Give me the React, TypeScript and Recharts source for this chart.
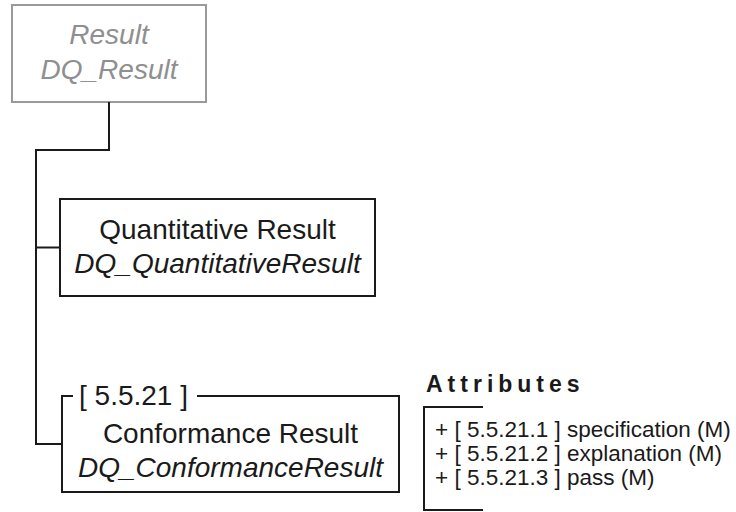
import { ReferenceArea, Scatter, ScatterChart, XAxis, YAxis } from "recharts";

// diagram units match the original figure's pixel grid
const FIG_W = 736;
const FIG_H = 512;

// class boxes (the first one is abstract: grey, italic)
const boxNames = ["Result", "Quantitative Result", "Conformance Result"];
const boxClasses = ["DQ_Result", "DQ_QuantitativeResult", "DQ_ConformanceResult"];
const boxLeft = [12, 60, 62];
const boxRight = [206, 375, 399];
const boxTop = [5, 199, 396];
const boxBottom = [102, 296, 492];
const nameBaseline = [44, 239, 443];
const classBaseline = [79, 273, 477];

// clause label sitting on the top edge of the conformance box
const clauseLabel = "[ 5.5.21 ]";
const clauseStart = 79;
const clauseBaseline = 405;
const clauseGapEnd = 197;

// inheritance tree
const trunkX = 36;
const elbowY = 150;

// attributes of the conformance result
const attrHeading = "Attributes";
const attrClauses = ["5.5.21.1", "5.5.21.2", "5.5.21.3"];
const attrNames = ["specification", "explanation", "pass"];
const attrObligation = ["M", "M", "M"];
const attrBaselines = [437, 461, 485];
const attrTextX = 435;
const headingX = 426;
const headingBaseline = 392;
const bracketX = 424;
const bracketArm = 483;
const bracketTop = 407;
const bracketBottom = 510;

const FONT = "'Liberation Sans', Arial, sans-serif";
const INK = "#1a1a1a";
const GREY = "#8f8f8f";

const midX = (i: number) => (boxLeft[i] + boxRight[i]) / 2;
const midY = (i: number) => (boxTop[i] + boxBottom[i]) / 2;

const nameMarks = boxNames.map((text, i) => ({ x: midX(i), y: nameBaseline[i], text, abstract: i === 0 }));
const classMarks = boxClasses.map((text, i) => ({ x: midX(i), y: classBaseline[i], text, abstract: i === 0 }));
const clauseMarks = [{ x: clauseStart, y: clauseBaseline, text: clauseLabel }];
const headingMarks = [{ x: headingX, y: headingBaseline, text: attrHeading }];
const attrMarks = attrNames.map((n, i) => ({
  x: attrTextX,
  y: attrBaselines[i],
  text: `+ [ ${attrClauses[i]} ] ${n} (${attrObligation[i]})`,
}));

// connector from the abstract Result down to the trunk, then to the last child
const treePath = [
  { x: midX(0), y: boxBottom[0] },
  { x: midX(0), y: elbowY },
  { x: trunkX, y: elbowY },
  { x: trunkX, y: midY(2) },
  { x: boxLeft[2], y: midY(2) },
];
const branchPath = [
  { x: trunkX, y: midY(1) },
  { x: boxLeft[1], y: midY(1) },
];
// conformance box drawn open at the top where the clause label sits
const conformancePath = [
  { x: clauseStart - 6, y: boxTop[2] },
  { x: boxLeft[2], y: boxTop[2] },
  { x: boxLeft[2], y: boxBottom[2] },
  { x: boxRight[2], y: boxBottom[2] },
  { x: boxRight[2], y: boxTop[2] },
  { x: clauseGapEnd, y: boxTop[2] },
];
const bracketPath = [
  { x: bracketArm, y: bracketTop },
  { x: bracketX, y: bracketTop },
  { x: bracketX, y: bracketBottom },
  { x: bracketArm, y: bracketBottom },
];

const noDot = () => <g />;

const textShape = (style: React.SVGProps<SVGTextElement>) => (props: any) => {
  const { cx, cy, payload } = props;
  const abstract = payload.abstract;
  return (
    <text
      x={cx}
      y={cy}
      fontFamily={FONT}
      fill={abstract ? GREY : INK}
      {...style}
      fontStyle={abstract ? "italic" : style.fontStyle}
    >
      {payload.text}
    </text>
  );
};

const lineStyle = { stroke: INK, strokeWidth: 2, fill: "none" };

export default function App() {
  return (
    <div style={{ position: "absolute", left: 0, top: 0, background: "#fff" }}>
      <ScatterChart width={FIG_W} height={FIG_H} margin={{ top: 0, right: 0, bottom: 0, left: 0 }}>
        <XAxis type="number" dataKey="x" domain={[0, FIG_W]} allowDataOverflow hide />
        <YAxis type="number" dataKey="y" domain={[0, FIG_H]} allowDataOverflow reversed hide />

        <ReferenceArea
          x1={boxLeft[0]}
          x2={boxRight[0]}
          y1={boxTop[0]}
          y2={boxBottom[0]}
          fill="none"
          stroke="#9a9a9a"
          strokeWidth={2}
          fillOpacity={1}
        />
        <ReferenceArea
          x1={boxLeft[1]}
          x2={boxRight[1]}
          y1={boxTop[1]}
          y2={boxBottom[1]}
          fill="none"
          stroke={INK}
          strokeWidth={2}
          fillOpacity={1}
        />

        <Scatter data={treePath} line={lineStyle} shape={noDot} isAnimationActive={false} />
        <Scatter data={branchPath} line={lineStyle} shape={noDot} isAnimationActive={false} />
        <Scatter data={conformancePath} line={lineStyle} shape={noDot} isAnimationActive={false} />
        <Scatter data={bracketPath} line={lineStyle} shape={noDot} isAnimationActive={false} />

        <Scatter
          data={nameMarks}
          shape={textShape({ fontSize: 28, textAnchor: "middle" })}
          isAnimationActive={false}
        />
        <Scatter
          data={classMarks}
          shape={textShape({ fontSize: 28, textAnchor: "middle", fontStyle: "italic" })}
          isAnimationActive={false}
        />
        <Scatter
          data={clauseMarks}
          shape={textShape({ fontSize: 28, textAnchor: "start" })}
          isAnimationActive={false}
        />
        <Scatter
          data={headingMarks}
          shape={textShape({ fontSize: 23, textAnchor: "start", fontWeight: "bold", letterSpacing: 5 })}
          isAnimationActive={false}
        />
        <Scatter
          data={attrMarks}
          shape={textShape({ fontSize: 22.5, textAnchor: "start" })}
          isAnimationActive={false}
        />
      </ScatterChart>
    </div>
  );
}
